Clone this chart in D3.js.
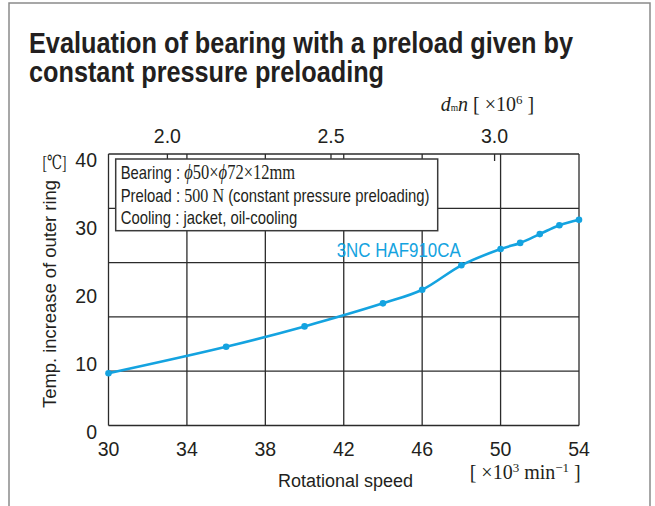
<!DOCTYPE html>
<html>
<head>
<meta charset="utf-8">
<script src="https://cdn.jsdelivr.net/npm/d3@7"></script>
<style>
  html, body { margin: 0; padding: 0; background: #fff; }
  svg { display: block; }
</style>
</head>
<body>
<svg id="chart" width="655" height="506"></svg>
<script>
// ---- data ----
const rpm = [30, 36, 40, 44, 46, 48, 50, 51, 52, 53, 54];            // ×10^3 min^-1
const tempRise = [7.7, 11.6, 14.6, 18.0, 20.0, 23.6, 26.0, 26.9, 28.2, 29.5, 30.3]; // °C
const xTicks = [30, 34, 38, 42, 46, 50, 54];
const yTicks = [0, 10, 20, 30, 40];
const yGrid = [0, 8, 16, 24, 32, 40];
const dmnTicks = [2.0, 2.5, 3.0];
const seriesName = "3NC HAF910CA";
const titleLines = ["Evaluation of bearing with a preload given by", "constant pressure preloading"];

const svg = d3.select("#chart");
const INK = "#231f20";
const GRID = "#2b2b2b";
const CYAN = "#14a3e0";
const SANS = "'Liberation Sans',Arial,sans-serif";
const SERIF = "'Liberation Serif','DejaVu Serif',serif";

// outer card border
svg.append("path")
  .attr("d", "M9,520 V3 H650 V520")
  .attr("fill", "none").attr("stroke", "#8a8a8a").attr("stroke-width", 1.5);

// title
const tl = [{t: titleLines[0], y: 53, w: 544}, {t: titleLines[1], y: 82, w: 355}];
svg.selectAll("text.title").data(tl).enter().append("text")
  .attr("class", "title")
  .attr("x", 29).attr("y", d => d.y)
  .attr("textLength", d => d.w).attr("lengthAdjust", "spacingAndGlyphs")
  .attr("font-family", SANS).attr("font-weight", "bold").attr("font-size", 29)
  .attr("fill", INK).text(d => d.t);

// scales
const L = 108.5, R = 579, T = 154, B = 425.5;
const x = d3.scaleLinear().domain([30, 54]).range([L, R]);
const y = d3.scaleLinear().domain([0, 40]).range([B, T]);
const xTop = d3.scaleLinear().domain([1.82, 3.258]).range([L, R]);

// grid
const g = svg.append("g");
g.selectAll("line.vg").data(xTicks).enter().append("line")
  .attr("x1", d => x(d)).attr("x2", d => x(d)).attr("y1", T).attr("y2", B)
  .attr("stroke", GRID).attr("stroke-width", 1.3);
g.selectAll("line.hg").data(yGrid).enter().append("line")
  .attr("x1", L).attr("x2", R).attr("y1", d => y(d)).attr("y2", d => y(d))
  .attr("stroke", GRID).attr("stroke-width", 1.3);
// top dmn ticks
g.selectAll("line.tt").data(dmnTicks).enter().append("line")
  .attr("x1", d => xTop(d)).attr("x2", d => xTop(d)).attr("y1", T).attr("y2", T + 7)
  .attr("stroke", GRID).attr("stroke-width", 1.3);

// legend box
svg.append("rect").attr("x", 115.7).attr("y", 159).attr("width", 322).attr("height", 71.7)
  .attr("fill", "#fff").attr("stroke", "#3a3a3a").attr("stroke-width", 1.5);

// legend text, horizontally condensed
const leg = svg.append("g")
  .attr("transform", "translate(120.7,0) scale(0.825,1)")
  .attr("font-family", SANS).attr("font-size", 18).attr("fill", INK);
const l1 = leg.append("text").attr("x", 0).attr("y", 179.5);
l1.append("tspan").text("Bearing : ");
l1.append("tspan").attr("font-family", SERIF).attr("font-size", 20).attr("font-style", "italic").text("ϕ");
l1.append("tspan").attr("font-family", SERIF).attr("font-size", 20).text("50×");
l1.append("tspan").attr("font-family", SERIF).attr("font-size", 20).attr("font-style", "italic").text("ϕ");
l1.append("tspan").attr("font-family", SERIF).attr("font-size", 20).text("72×12mm");
const l2 = leg.append("text").attr("x", 0).attr("y", 201.8);
l2.append("tspan").text("Preload : ");
l2.append("tspan").attr("font-family", SERIF).attr("font-size", 19.5).text("500 N");
l2.append("tspan").text(" (constant pressure preloading)");
leg.append("text").attr("x", 0).attr("y", 224)
  .text("Cooling : jacket, oil-cooling");

// series
const pts = rpm.map((r, i) => [r, tempRise[i]]);
const line = d3.line().x(d => x(d[0])).y(d => y(d[1])).curve(d3.curveCatmullRom.alpha(0.5));
svg.append("path").datum(pts).attr("d", line)
  .attr("fill", "none").attr("stroke", CYAN).attr("stroke-width", 2.6);
svg.selectAll("circle.pt").data(pts).enter().append("circle")
  .attr("cx", d => x(d[0])).attr("cy", d => y(d[1])).attr("r", 3.3).attr("fill", CYAN);
svg.append("text").attr("x", 336.7).attr("y", 256.7)
  .attr("textLength", 124).attr("lengthAdjust", "spacingAndGlyphs")
  .attr("font-family", SANS).attr("font-size", 21).attr("fill", CYAN).text(seriesName);

// y tick labels
svg.selectAll("text.yt").data(yTicks).enter().append("text")
  .attr("x", 97).attr("y", d => y(d) + 6.3).attr("dy", "0.35em")
  .attr("text-anchor", "end").attr("font-family", SANS).attr("font-size", 19.5)
  .attr("fill", INK).text(d => d);
// [℃]
svg.append("text").attr("x", 42.5).attr("y", 168.5)
  .attr("textLength", 24).attr("lengthAdjust", "spacingAndGlyphs")
  .attr("font-family", SERIF).attr("font-size", 19.5).attr("fill", INK).text("[℃]");
// y axis title
svg.append("text")
  .attr("transform", `translate(56,${(180 + 408) / 2}) rotate(-90)`)
  .attr("text-anchor", "middle")
  .attr("textLength", 228).attr("lengthAdjust", "spacingAndGlyphs")
  .attr("font-family", SANS).attr("font-size", 18).attr("fill", INK)
  .text("Temp. increase of outer ring");

// x tick labels
svg.selectAll("text.xt").data(xTicks).enter().append("text")
  .attr("x", d => x(d)).attr("y", 456)
  .attr("text-anchor", "middle").attr("font-family", SANS).attr("font-size", 19.5)
  .attr("fill", INK).text(d => d);
// x axis title
svg.append("text").attr("x", 345.5).attr("y", 487)
  .attr("text-anchor", "middle")
  .attr("font-family", SANS).attr("font-size", 18).attr("fill", INK).text("Rotational speed");
// x unit
const xu = svg.append("text").attr("x", 469.7).attr("y", 478.6)
  .attr("font-family", SERIF).attr("font-size", 20).attr("fill", INK);
xu.append("tspan").text("[ ×10");
xu.append("tspan").attr("font-size", 13).attr("dy", -7).text("3");
xu.append("tspan").attr("dy", 7).text(" min");
xu.append("tspan").attr("font-size", 13).attr("dy", -7).text("−1");
xu.append("tspan").attr("dy", 7).text(" ]");

// top tick labels
svg.selectAll("text.tt").data(dmnTicks).enter().append("text")
  .attr("x", d => xTop(d)).attr("y", 143)
  .attr("text-anchor", "middle").attr("font-family", SANS).attr("font-size", 19.5)
  .attr("fill", INK).text(d => d.toFixed(1));
// top unit
const tu = svg.append("text").attr("x", 440.7).attr("y", 111)
  .attr("font-family", SERIF).attr("font-size", 20).attr("fill", INK);
tu.append("tspan").attr("font-style", "italic").text("d");
tu.append("tspan").attr("font-size", 9.5).text("m");
tu.append("tspan").attr("font-style", "italic").text("n");
tu.append("tspan").text(" [ ×10");
tu.append("tspan").attr("font-size", 13).attr("dy", -7).text("6");
tu.append("tspan").attr("dy", 7).text(" ]");
</script>
</body>
</html>
